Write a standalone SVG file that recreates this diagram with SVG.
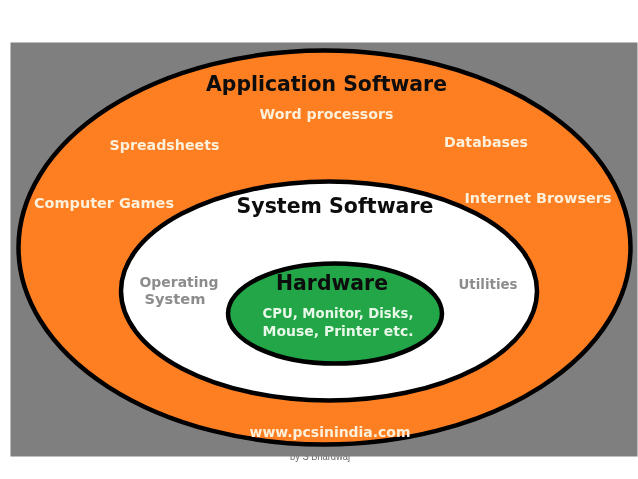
<svg xmlns="http://www.w3.org/2000/svg" width="638" height="479" viewBox="0 0 638 479">
<defs><filter id="soft" x="0" y="0" width="1" height="1"><feGaussianBlur stdDeviation="0.45"/></filter></defs>
<style>
text{font-family:"DejaVu Sans",Verdana,sans-serif;font-weight:bold;text-anchor:middle}
.ring{stroke:#000;stroke-width:4.5}
.head{fill:#0d0d0d;font-size:20.5px}
.app{fill:#fdf0da;font-size:14.2px}
.sys{fill:#8c8c8c;font-size:14.2px}
.hw{fill:#e8f8e8;font-size:14.2px}
</style>
<rect width="638" height="479" fill="#fff"/>
<g filter="url(#soft)">
<text x="320" y="460" style="font-family:'Liberation Sans',sans-serif;font-weight:normal;font-size:10px;fill:#666" textLength="60" lengthAdjust="spacingAndGlyphs">by S Bhardwaj</text>
<rect id="background" x="10.5" y="42.5" width="627" height="414" fill="#7f7f7f"/>
<g id="application-software">
<ellipse class="ring" cx="324.5" cy="247.5" rx="306" ry="197" fill="#fd7f23"/>
<text class="head" x="326.5" y="91" textLength="241" lengthAdjust="spacingAndGlyphs">Application Software</text>
<text class="app" x="326.5" y="119" textLength="134" lengthAdjust="spacingAndGlyphs">Word processors</text>
<text class="app" x="164.5" y="150" textLength="110" lengthAdjust="spacingAndGlyphs">Spreadsheets</text>
<text class="app" x="486" y="147" textLength="84" lengthAdjust="spacingAndGlyphs">Databases</text>
<text class="app" x="104" y="208" textLength="140" lengthAdjust="spacingAndGlyphs">Computer Games</text>
<text class="app" x="538" y="203" textLength="147" lengthAdjust="spacingAndGlyphs">Internet Browsers</text>
<text class="app" x="330" y="436.5" textLength="161" lengthAdjust="spacingAndGlyphs">www.pcsinindia.com</text>
</g>
<g id="system-software">
<ellipse class="ring" cx="329" cy="291" rx="208" ry="109.5" fill="#fff"/>
<text class="head" x="335" y="213" textLength="197" lengthAdjust="spacingAndGlyphs">System Software</text>
<text class="sys" x="179" y="287" textLength="79" lengthAdjust="spacingAndGlyphs">Operating</text>
<text class="sys" x="175" y="304" textLength="61" lengthAdjust="spacingAndGlyphs">System</text>
<text class="sys" x="488" y="289" textLength="59" lengthAdjust="spacingAndGlyphs">Utilities</text>
</g>
<g id="hardware">
<ellipse class="ring" cx="335" cy="313.5" rx="107" ry="50" fill="#21a647"/>
<text class="head" x="332" y="290" textLength="112" lengthAdjust="spacingAndGlyphs">Hardware</text>
<text class="hw" x="338" y="318" textLength="151" lengthAdjust="spacingAndGlyphs">CPU, Monitor, Disks,</text>
<text class="hw" x="338" y="336" textLength="151" lengthAdjust="spacingAndGlyphs">Mouse, Printer etc.</text>
</g>
<g id="connectors"/>
</g>
</svg>
